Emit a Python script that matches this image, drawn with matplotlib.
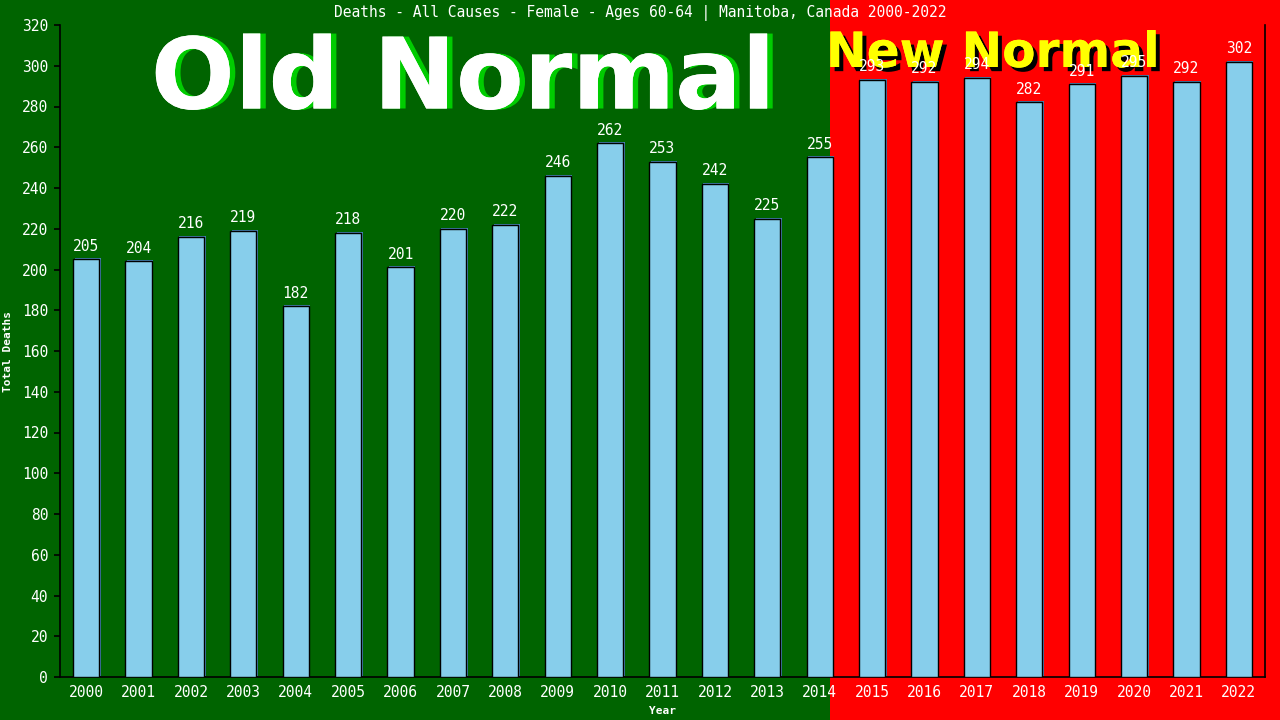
import matplotlib.pyplot as plt
import matplotlib.patches as patches
import matplotlib.transforms as mtransforms
import matplotlib.patheffects as pe

years = [str(y) for y in range(2000, 2023)]
deaths = [205, 204, 216, 219, 182, 218, 201, 220, 222, 246, 262, 253,
          242, 225, 255, 293, 292, 294, 282, 291, 295, 292, 302]
yticks = list(range(0, 321, 20))

mono = 'DejaVu Sans Mono'

fig = plt.figure(figsize=(12.8, 7.2), dpi=100)

# background split: old normal (green) / new normal (red)
split = 830 / 1280
fig.patches.append(patches.Rectangle((0, 0), split, 1, transform=fig.transFigure,
                                     facecolor='#006400', edgecolor='none', zorder=-10))
fig.patches.append(patches.Rectangle((split, 0), 1 - split, 1, transform=fig.transFigure,
                                     facecolor='#ff0000', edgecolor='none', zorder=-10))

ax = fig.add_axes([60 / 1280, 43 / 720, 1205 / 1280, 652 / 720])
ax.patch.set_alpha(0)

x = list(range(len(years)))

# big labels sit behind the bars and value labels
ax.text(463 / 1280, 1 - 81 / 720, 'Old Normal', ha='center', va='center',
        color='white', fontsize=71, weight='bold', family='DejaVu Sans',
        transform=fig.transFigure, zorder=1, clip_on=False,
        path_effects=[pe.withSimplePatchShadow(offset=(4, 0), shadow_rgbFace='#00cc00', alpha=1.0),
                      pe.Normal()])
ax.text(993 / 1280, 1 - 53 / 720, 'New Normal', ha='center', va='center',
        color='yellow', fontsize=35, weight='bold', family='DejaVu Sans',
        transform=fig.transFigure, zorder=1, clip_on=False,
        path_effects=[pe.withSimplePatchShadow(offset=(3, -3), shadow_rgbFace='black', alpha=1.0),
                      pe.Normal()])

# shadow bars slightly offset up-right
shadow = mtransforms.offset_copy(ax.transData, fig=fig, x=1.5, y=1.0, units='dots')
ax.bar(x, deaths, width=0.5, color='#4682b4', edgecolor='none', transform=shadow, zorder=2)
bars = ax.bar(x, deaths, width=0.5, color='#87ceeb', edgecolor='black', linewidth=1.0, zorder=3)

for xi, v in zip(x, deaths):
    ax.annotate(str(v), (xi, v), xytext=(0, 4), textcoords='offset points',
                ha='center', va='bottom', color='white', fontsize=10.5, family=mono, zorder=4)

ax.set_xlim(-0.5, len(years) - 0.5)
ax.set_ylim(0, 320)
ax.set_yticks(yticks)
ax.set_xticks(x)
ax.set_xticklabels(years)

ax.spines['top'].set_visible(False)
for s in ['left', 'bottom', 'right']:
    ax.spines[s].set_color('black')
    ax.spines[s].set_linewidth(1.2)

ax.tick_params(axis='y', colors='black', labelcolor='white', length=4.5, width=1.2,
               labelsize=10.5, pad=4)
ax.tick_params(axis='x', length=0, labelcolor='white', labelsize=10.5, pad=6)
for lab in ax.get_xticklabels() + ax.get_yticklabels():
    lab.set_family(mono)

ax.set_ylabel('Total Deaths', color='white', fontsize=8, family=mono, weight='bold')
ax.yaxis.set_label_coords(-0.039, 0.5)
ax.set_xlabel('Year', color='white', fontsize=8, family=mono, weight='bold', labelpad=4)

fig.text(0.5, 1 - 13 / 720, 'Deaths - All Causes - Female - Ages 60-64 | Manitoba, Canada 2000-2022',
         ha='center', va='center', color='white', fontsize=10.5, family=mono)

plt.savefig('out.png', dpi=100)
